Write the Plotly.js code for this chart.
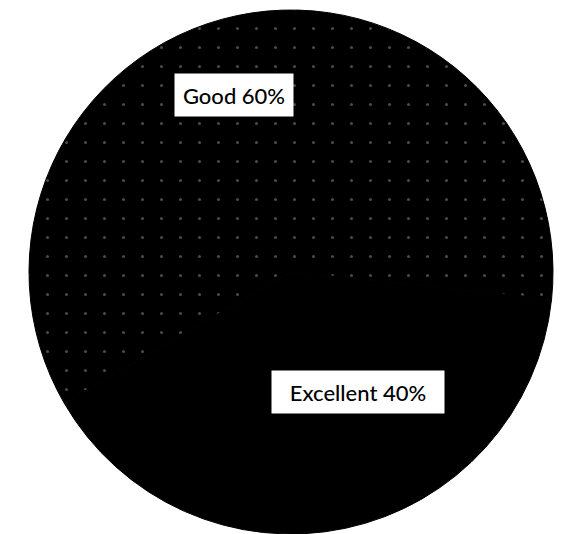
<!DOCTYPE html>
<html>
<head>
<meta charset="utf-8">
<script src="https://cdn.plot.ly/plotly-3.0.1.min.js"></script>
<style>html,body{margin:0;padding:0;background:#fff;}#chart{width:582px;height:534px;}</style>
</head>
<body>
<div id="chart"></div>
<script>
const categories = ["Good", "Excellent"];
const values = [60, 40];
const sliceColors = ["#000000", "#000000"];

const trace = {
  type: "pie",
  labels: categories,
  values: values,
  sort: false,
  direction: "clockwise",
  rotation: -120,
  textinfo: "none",
  hoverinfo: "none",
  showlegend: false,
  marker: {
    colors: sliceColors,
    line: {width: 1, color: "#000000"},
    pattern: {
      shape: [".", ""],
      bgcolor: ["#000000", "#000000"],
      fgcolor: ["#4a4a4a", "#000000"],
      size: 19,
      solidity: 0.02
    }
  },
  domain: {x: [0, 1], y: [0, 1]}
};

const labelPos = [
  {x: 234, y: 95, w: 118},
  {x: 358, y: 392, w: 172}
];

const annotations = categories.map((c, i) => ({
  text: c + " " + values[i] + "%",
  xref: "paper", yref: "paper",
  x: labelPos[i].x / 582,
  y: 1 - (labelPos[i].y - 10) / 524,
  xanchor: "center", yanchor: "middle",
  showarrow: false,
  bgcolor: "#ffffff",
  width: labelPos[i].w - 8,
  height: 34,
  borderpad: 4,
  font: {family: "Lato, 'DejaVu Sans', sans-serif", size: 22, color: "#000000", weight: 500}
}));

const layout = {
  width: 582,
  height: 534,
  margin: {l: 0, r: 0, t: 10, b: 0},
  paper_bgcolor: "#ffffff",
  plot_bgcolor: "#ffffff",
  showlegend: false,
  annotations: annotations
};

Plotly.newPlot("chart", [trace], layout, {displayModeBar: false, staticPlot: true});
</script>
</body>
</html>
